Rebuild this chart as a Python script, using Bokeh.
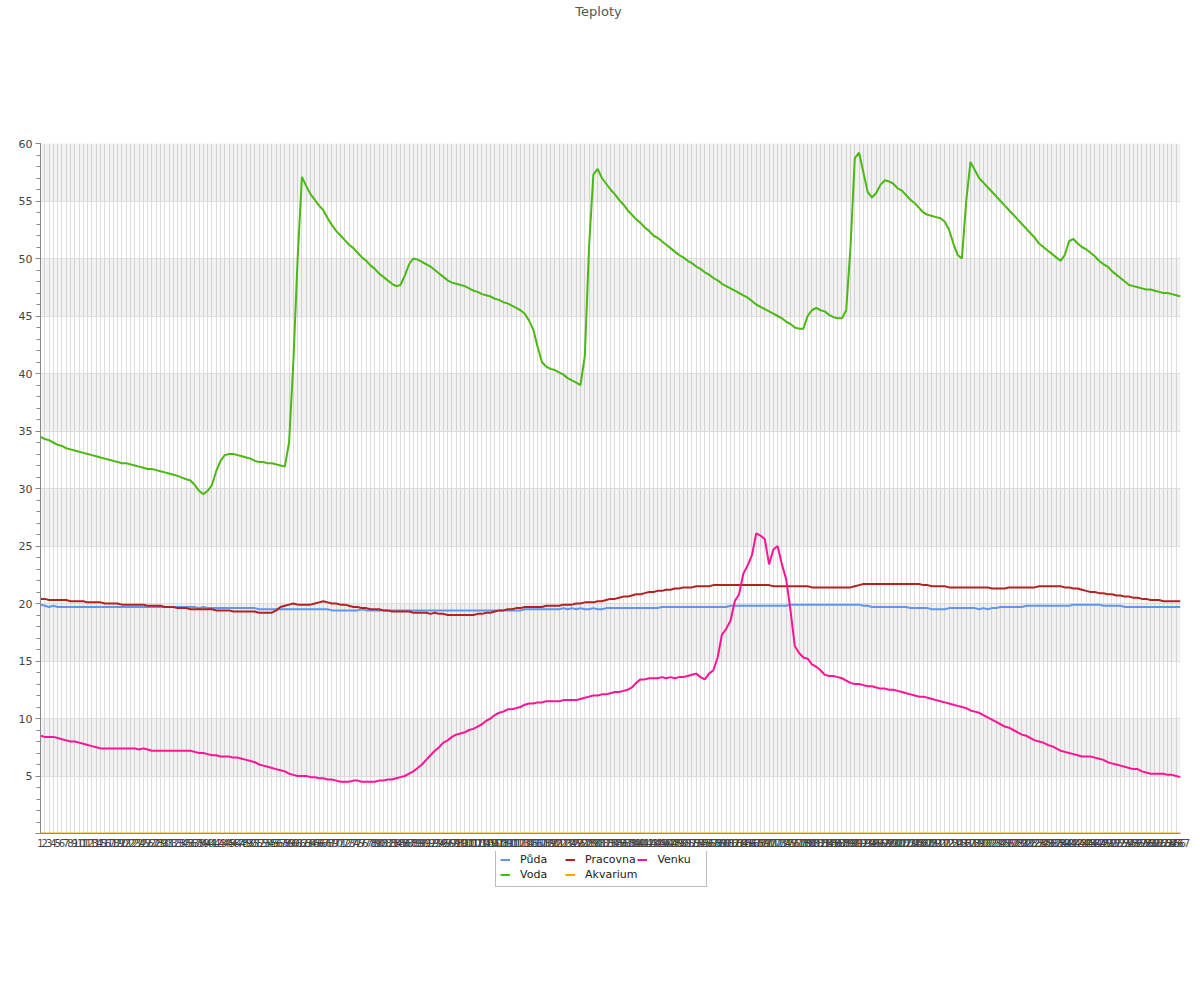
from bokeh.plotting import figure
from bokeh.layouts import column
from bokeh.models import Range1d, FixedTicker, Legend, LegendItem, ColumnDataSource, Label
from bokeh.embed import file_html
from bokeh.resources import INLINE

days = list(range(1, 268))
day_labels = [str(d) for d in days]

chart_title = "Teploty"
series_names = ["Půda", "Voda", "Pracovna", "Akvarium", "Venku"]
series_cols = ["puda", "voda", "pracovna", "akvarium", "venku"]
series_colors = ["#6495ed", "#4cb814", "#b22222", "#ffa500", "#ff1493"]

puda = [
    19.9, 19.8, 19.7, 19.8, 19.7, 19.7, 19.7, 19.7, 19.7, 19.7,
    19.7, 19.7, 19.7, 19.7, 19.7, 19.7, 19.7, 19.7, 19.7, 19.7,
    19.7, 19.7, 19.7, 19.7, 19.7, 19.7, 19.7, 19.7, 19.7, 19.7,
    19.7, 19.7, 19.7, 19.7, 19.7, 19.7, 19.7, 19.6, 19.7, 19.6,
    19.6, 19.6, 19.6, 19.6, 19.6, 19.6, 19.6, 19.6, 19.6, 19.6,
    19.6, 19.5, 19.5, 19.5, 19.5, 19.5, 19.5, 19.5, 19.5, 19.5,
    19.5, 19.5, 19.5, 19.5, 19.5, 19.5, 19.5, 19.5, 19.4, 19.4,
    19.4, 19.4, 19.4, 19.4, 19.4, 19.5, 19.4, 19.4, 19.4, 19.4,
    19.4, 19.4, 19.4, 19.4, 19.4, 19.4, 19.4, 19.4, 19.4, 19.4,
    19.4, 19.4, 19.4, 19.4, 19.4, 19.4, 19.4, 19.4, 19.4, 19.4,
    19.4, 19.4, 19.4, 19.4, 19.4, 19.4, 19.4, 19.4, 19.4, 19.4,
    19.4, 19.4, 19.4, 19.5, 19.5, 19.5, 19.5, 19.5, 19.5, 19.5,
    19.5, 19.5, 19.6, 19.5, 19.6, 19.5, 19.6, 19.5, 19.5, 19.6,
    19.5, 19.5, 19.6, 19.6, 19.6, 19.6, 19.6, 19.6, 19.6, 19.6,
    19.6, 19.6, 19.6, 19.6, 19.6, 19.7, 19.7, 19.7, 19.7, 19.7,
    19.7, 19.7, 19.7, 19.7, 19.7, 19.7, 19.7, 19.7, 19.7, 19.7,
    19.7, 19.8, 19.8, 19.8, 19.8, 19.8, 19.8, 19.8, 19.8, 19.8,
    19.8, 19.8, 19.8, 19.8, 19.8, 19.9, 19.9, 19.9, 19.9, 19.9,
    19.9, 19.9, 19.9, 19.9, 19.9, 19.9, 19.9, 19.9, 19.9, 19.9,
    19.9, 19.9, 19.8, 19.8, 19.7, 19.7, 19.7, 19.7, 19.7, 19.7,
    19.7, 19.7, 19.7, 19.6, 19.6, 19.6, 19.6, 19.6, 19.5, 19.5,
    19.5, 19.5, 19.6, 19.6, 19.6, 19.6, 19.6, 19.6, 19.6, 19.5,
    19.6, 19.5, 19.6, 19.6, 19.7, 19.7, 19.7, 19.7, 19.7, 19.7,
    19.8, 19.8, 19.8, 19.8, 19.8, 19.8, 19.8, 19.8, 19.8, 19.8,
    19.8, 19.9, 19.9, 19.9, 19.9, 19.9, 19.9, 19.9, 19.8, 19.8,
    19.8, 19.8, 19.8, 19.7, 19.7, 19.7, 19.7, 19.7, 19.7, 19.7,
    19.7, 19.7, 19.7, 19.7, 19.7, 19.7, 19.7,
]

voda = [
    34.5, 34.3, 34.2, 34.0, 33.8, 33.7, 33.5, 33.4, 33.3, 33.2,
    33.1, 33.0, 32.9, 32.8, 32.7, 32.6, 32.5, 32.4, 32.3, 32.2,
    32.2, 32.1, 32.0, 31.9, 31.8, 31.7, 31.7, 31.6, 31.5, 31.4,
    31.3, 31.2, 31.1, 30.95, 30.8, 30.7, 30.3, 29.8, 29.5, 29.8,
    30.3, 31.5, 32.4, 32.9, 33.0, 33.0, 32.9, 32.8, 32.7, 32.6,
    32.4, 32.3, 32.3, 32.2, 32.2, 32.1, 32.0, 31.9, 34.0, 41.0,
    50.0, 57.1, 56.3, 55.6, 55.1, 54.6, 54.2, 53.5, 52.9, 52.4,
    52.0, 51.6, 51.2, 50.9, 50.5, 50.1, 49.8, 49.4, 49.1, 48.7,
    48.4, 48.1, 47.8, 47.6, 47.7, 48.5, 49.5, 50.0, 49.9, 49.7,
    49.5, 49.3, 49.0, 48.7, 48.4, 48.1, 47.9, 47.8, 47.7, 47.6,
    47.4, 47.2, 47.1, 46.9, 46.8, 46.7, 46.5, 46.4, 46.2, 46.1,
    45.9, 45.7, 45.5, 45.2, 44.6, 43.8, 42.3, 41.0, 40.6, 40.4,
    40.3, 40.1, 39.9, 39.6, 39.4, 39.2, 39.0, 41.5, 51.0, 57.3,
    57.8, 57.0, 56.5, 56.0, 55.6, 55.1, 54.7, 54.2, 53.8, 53.4,
    53.1, 52.7, 52.4, 52.0, 51.8, 51.5, 51.2, 50.9, 50.6, 50.3,
    50.1, 49.8, 49.6, 49.3, 49.1, 48.8, 48.6, 48.3, 48.1, 47.8,
    47.6, 47.4, 47.2, 47.0, 46.8, 46.6, 46.3, 46.0, 45.8, 45.6,
    45.4, 45.2, 45.0, 44.8, 44.5, 44.3, 44.0, 43.9, 43.9, 45.0,
    45.5, 45.7, 45.5, 45.4, 45.1, 44.9, 44.8, 44.8, 45.5, 51.0,
    58.7, 59.2, 57.5, 55.8, 55.3, 55.7, 56.4, 56.8, 56.7, 56.5,
    56.1, 55.9, 55.5, 55.1, 54.8, 54.4, 54.0, 53.8, 53.7, 53.6,
    53.5, 53.2, 52.5, 51.3, 50.3, 50.0, 55.0, 58.4, 57.7, 57.0,
    56.6, 56.2, 55.8, 55.4, 55.0, 54.6, 54.2, 53.8, 53.4, 53.0,
    52.6, 52.2, 51.8, 51.3, 51.0, 50.7, 50.4, 50.1, 49.8, 50.3,
    51.5, 51.7, 51.3, 51.0, 50.8, 50.5, 50.2, 49.8, 49.5, 49.3,
    48.9, 48.6, 48.3, 48.0, 47.7, 47.6, 47.5, 47.4, 47.3, 47.3,
    47.2, 47.1, 47.0, 47.0, 46.9, 46.8, 46.7,
]

pracovna = [
    20.4, 20.4, 20.3, 20.3, 20.3, 20.3, 20.3, 20.2, 20.2, 20.2,
    20.2, 20.1, 20.1, 20.1, 20.1, 20.0, 20.0, 20.0, 20.0, 19.9,
    19.9, 19.9, 19.9, 19.9, 19.9, 19.8, 19.8, 19.8, 19.8, 19.7,
    19.7, 19.7, 19.6, 19.6, 19.6, 19.5, 19.5, 19.5, 19.5, 19.5,
    19.5, 19.4, 19.4, 19.4, 19.4, 19.3, 19.3, 19.3, 19.3, 19.3,
    19.3, 19.2, 19.2, 19.2, 19.2, 19.4, 19.7, 19.8, 19.9, 20.0,
    19.9, 19.9, 19.9, 19.9, 20.0, 20.1, 20.2, 20.1, 20.0, 20.0,
    19.9, 19.9, 19.8, 19.7, 19.7, 19.6, 19.6, 19.5, 19.5, 19.5,
    19.4, 19.4, 19.3, 19.3, 19.3, 19.3, 19.3, 19.2, 19.2, 19.2,
    19.2, 19.1, 19.2, 19.1, 19.1, 19.0, 19.0, 19.0, 19.0, 19.0,
    19.0, 19.0, 19.1, 19.1, 19.2, 19.2, 19.3, 19.4, 19.4, 19.5,
    19.5, 19.6, 19.6, 19.7, 19.7, 19.7, 19.7, 19.7, 19.8, 19.8,
    19.8, 19.8, 19.9, 19.9, 19.9, 20.0, 20.0, 20.1, 20.1, 20.1,
    20.2, 20.2, 20.3, 20.4, 20.4, 20.5, 20.6, 20.6, 20.7, 20.8,
    20.8, 20.9, 21.0, 21.0, 21.1, 21.1, 21.2, 21.2, 21.3, 21.3,
    21.4, 21.4, 21.4, 21.5, 21.5, 21.5, 21.5, 21.6, 21.6, 21.6,
    21.6, 21.6, 21.6, 21.6, 21.6, 21.6, 21.6, 21.6, 21.6, 21.6,
    21.6, 21.5, 21.5, 21.5, 21.5, 21.5, 21.5, 21.5, 21.5, 21.5,
    21.4, 21.4, 21.4, 21.4, 21.4, 21.4, 21.4, 21.4, 21.4, 21.4,
    21.5, 21.6, 21.7, 21.7, 21.7, 21.7, 21.7, 21.7, 21.7, 21.7,
    21.7, 21.7, 21.7, 21.7, 21.7, 21.7, 21.6, 21.6, 21.5, 21.5,
    21.5, 21.5, 21.4, 21.4, 21.4, 21.4, 21.4, 21.4, 21.4, 21.4,
    21.4, 21.4, 21.3, 21.3, 21.3, 21.3, 21.4, 21.4, 21.4, 21.4,
    21.4, 21.4, 21.4, 21.5, 21.5, 21.5, 21.5, 21.5, 21.5, 21.4,
    21.4, 21.3, 21.3, 21.2, 21.1, 21.0, 21.0, 20.9, 20.9, 20.8,
    20.8, 20.7, 20.7, 20.6, 20.6, 20.5, 20.5, 20.4, 20.4, 20.3,
    20.3, 20.3, 20.2, 20.2, 20.2, 20.2, 20.2,
]

akvarium = [
    0, 0, 0, 0, 0, 0, 0, 0, 0, 0, 0, 0, 0, 0, 0, 0, 0, 0, 0, 0,
    0, 0, 0, 0, 0, 0, 0, 0, 0, 0, 0, 0, 0, 0, 0, 0, 0, 0, 0, 0,
    0, 0, 0, 0, 0, 0, 0, 0, 0, 0, 0, 0, 0, 0, 0, 0, 0, 0, 0, 0,
    0, 0, 0, 0, 0, 0, 0, 0, 0, 0, 0, 0, 0, 0, 0, 0, 0, 0, 0, 0,
    0, 0, 0, 0, 0, 0, 0, 0, 0, 0, 0, 0, 0, 0, 0, 0, 0, 0, 0, 0,
    0, 0, 0, 0, 0, 0, 0, 0, 0, 0, 0, 0, 0, 0, 0, 0, 0, 0, 0, 0,
    0, 0, 0, 0, 0, 0, 0, 0, 0, 0, 0, 0, 0, 0, 0, 0, 0, 0, 0, 0,
    0, 0, 0, 0, 0, 0, 0, 0, 0, 0, 0, 0, 0, 0, 0, 0, 0, 0, 0, 0,
    0, 0, 0, 0, 0, 0, 0, 0, 0, 0, 0, 0, 0, 0, 0, 0, 0, 0, 0, 0,
    0, 0, 0, 0, 0, 0, 0, 0, 0, 0, 0, 0, 0, 0, 0, 0, 0, 0, 0, 0,
    0, 0, 0, 0, 0, 0, 0, 0, 0, 0, 0, 0, 0, 0, 0, 0, 0, 0, 0, 0,
    0, 0, 0, 0, 0, 0, 0, 0, 0, 0, 0, 0, 0, 0, 0, 0, 0, 0, 0, 0,
    0, 0, 0, 0, 0, 0, 0, 0, 0, 0, 0, 0, 0, 0, 0, 0, 0, 0, 0, 0,
    0, 0, 0, 0, 0, 0, 0,
]

venku = [
    8.5, 8.4, 8.4, 8.4, 8.3, 8.2, 8.1, 8.0, 8.0, 7.9,
    7.8, 7.7, 7.6, 7.5, 7.4, 7.4, 7.4, 7.4, 7.4, 7.4,
    7.4, 7.4, 7.4, 7.3, 7.4, 7.3, 7.2, 7.2, 7.2, 7.2,
    7.2, 7.2, 7.2, 7.2, 7.2, 7.2, 7.1, 7.0, 7.0, 6.9,
    6.8, 6.8, 6.7, 6.7, 6.7, 6.6, 6.6, 6.5, 6.4, 6.3,
    6.2, 6.0, 5.9, 5.8, 5.7, 5.6, 5.5, 5.4, 5.2, 5.1,
    5.0, 5.0, 5.0, 4.9, 4.9, 4.8, 4.8, 4.7, 4.7, 4.6,
    4.5, 4.5, 4.5, 4.6, 4.6, 4.5, 4.5, 4.5, 4.5, 4.6,
    4.6, 4.7, 4.7, 4.8, 4.9, 5.0, 5.2, 5.4, 5.7, 6.0,
    6.4, 6.8, 7.2, 7.5, 7.9, 8.1, 8.4, 8.6, 8.7, 8.8,
    9.0, 9.1, 9.3, 9.5, 9.8, 10.0, 10.3, 10.5, 10.6, 10.8,
    10.8, 10.9, 11.0, 11.2, 11.3, 11.3, 11.4, 11.4, 11.5, 11.5,
    11.5, 11.5, 11.6, 11.6, 11.6, 11.6, 11.7, 11.8, 11.9, 12.0,
    12.0, 12.1, 12.1, 12.2, 12.3, 12.3, 12.4, 12.5, 12.7, 13.1,
    13.4, 13.4, 13.5, 13.5, 13.5, 13.6, 13.5, 13.6, 13.5, 13.6,
    13.6, 13.7, 13.8, 13.9, 13.6, 13.4, 13.9, 14.2, 15.3, 17.3,
    17.8, 18.5, 20.2, 20.8, 22.6, 23.3, 24.2, 26.1, 25.9, 25.6,
    23.4, 24.7, 25.0, 23.4, 22.1, 19.4, 16.3, 15.7, 15.3, 15.2,
    14.7, 14.5, 14.2, 13.8, 13.7, 13.7, 13.6, 13.5, 13.3, 13.1,
    13.0, 13.0, 12.9, 12.8, 12.8, 12.7, 12.6, 12.6, 12.5, 12.5,
    12.4, 12.3, 12.2, 12.1, 12.0, 11.9, 11.9, 11.8, 11.7, 11.6,
    11.5, 11.4, 11.3, 11.2, 11.1, 11.0, 10.9, 10.7, 10.6, 10.5,
    10.3, 10.1, 9.9, 9.7, 9.5, 9.3, 9.2, 9.0, 8.8, 8.6,
    8.5, 8.3, 8.1, 8.0, 7.9, 7.7, 7.6, 7.4, 7.2, 7.1,
    7.0, 6.9, 6.8, 6.7, 6.7, 6.7, 6.6, 6.5, 6.4, 6.2,
    6.1, 6.0, 5.9, 5.8, 5.7, 5.6, 5.6, 5.4, 5.3, 5.2,
    5.2, 5.2, 5.2, 5.1, 5.1, 5.0, 4.9,
]

y_ticks = [0, 5, 10, 15, 20, 25, 30, 35, 40, 45, 50, 55, 60]
y_minor = list(range(0, 61))

FONT = "DejaVu Sans"
TITLE_H = 30
LEG_H = 50
FRAME_LEFT = 40       # the strips' frames are aligned with the chart's frame
BOTTOM = 18

src = ColumnDataSource(dict(day=days, puda=puda, voda=voda, pracovna=pracovna,
                            akvarium=akvarium, venku=venku))

# ---------------- title strip ----------------
tfig = figure(width=1192, height=TITLE_H, output_backend="svg", toolbar_location=None,
              x_range=Range1d(0, 1), y_range=Range1d(0, 1),
              x_axis_location=None, y_axis_location=None,
              min_border_left=0, min_border_right=0, min_border_top=0, min_border_bottom=0)
tfig.grid.visible = False
tfig.outline_line_color = None
tfig.add_layout(Label(x=598 - FRAME_LEFT, y=TITLE_H - 11, x_units="screen", y_units="screen",
                      text=chart_title, text_align="center", text_baseline="middle",
                      text_font=FONT, text_font_size="13px", text_color="#555555"))

# ---------------- main chart ----------------
p = figure(width=1192, height=143 - TITLE_H + 690 + BOTTOM, output_backend="svg",
           toolbar_location=None, x_range=Range1d(1, 267), y_range=Range1d(0, 60),
           min_border_left=FRAME_LEFT, min_border_right=12, min_border_top=143 - TITLE_H,
           min_border_bottom=BOTTOM)
p.outline_line_color = None
p.background_fill_color = "white"

p.xaxis.ticker = FixedTicker(ticks=days, minor_ticks=[])
p.xaxis.major_label_overrides = dict(zip(days, day_labels))
p.xaxis.major_tick_line_color = None
p.xaxis.minor_tick_line_color = None
p.xaxis.major_tick_out = 0
p.xaxis.major_tick_in = 0
p.xaxis.axis_line_color = "#888888"
p.xaxis.major_label_standoff = 5
p.xaxis.major_label_text_font = FONT
p.xaxis.major_label_text_font_size = "10px"
p.xaxis.major_label_text_color = "#444444"

p.yaxis.ticker = FixedTicker(ticks=y_ticks, minor_ticks=y_minor)
p.yaxis.major_label_overrides = {0: ""}
p.yaxis.axis_line_color = "#888888"
p.yaxis.major_tick_line_color = "#888888"
p.yaxis.minor_tick_line_color = "#888888"
p.yaxis.major_tick_out = 5
p.yaxis.major_tick_in = 0
p.yaxis.minor_tick_out = 4
p.yaxis.minor_tick_in = 0
p.yaxis.major_label_standoff = 3
p.yaxis.major_label_text_font = FONT
p.yaxis.major_label_text_font_size = "11px"
p.yaxis.major_label_text_color = "#444444"

p.xgrid.ticker = FixedTicker(ticks=days, minor_ticks=[])
p.xgrid.grid_line_color = "#dedede"
p.ygrid.ticker = FixedTicker(ticks=y_ticks, minor_ticks=[])
p.ygrid.grid_line_color = "#dddddd"
p.ygrid.band_fill_color = "black"
p.ygrid.band_fill_alpha = 0.05

for col, color in zip(series_cols, series_colors):
    p.line(x="day", y=col, source=src, line_color=color, line_width=2)

# ---------------- legend strip ----------------
# same series drawn again with a y range that keeps the lines out of view,
# so that this strip only shows the legend keys.
lfig = figure(width=1192, height=LEG_H, output_backend="svg", toolbar_location=None,
              x_range=Range1d(1, 267), y_range=Range1d(1000, 1001),
              x_axis_location=None, y_axis_location=None,
              min_border_left=0, min_border_right=0, min_border_top=0, min_border_bottom=0)
lfig.grid.visible = False
lfig.outline_line_color = None
keys = []
for col, color in zip(series_cols, series_colors):
    keys.append(lfig.line(x="day", y=col, source=src, line_color=color, line_width=2))

legend = Legend(items=[LegendItem(label=n, renderers=[r]) for n, r in zip(series_names, keys)],
                orientation="vertical", nrows=2,
                location=(495 - FRAME_LEFT, LEG_H - 38 + (BOTTOM - 16)))
legend.label_text_font = FONT
legend.label_text_font_size = "11px"
legend.label_text_color = "#222222"
legend.glyph_width = 10
legend.glyph_height = 15
legend.label_height = 15
legend.label_width = 45
legend.label_standoff = 10
legend.padding = 4
legend.spacing = 0
legend.margin = 0
legend.border_line_color = "#777777"
legend.border_line_width = 1
legend.background_fill_color = "white"
legend.background_fill_alpha = 1
lfig.add_layout(legend, "center")

layout = column(tfig, p, lfig, spacing=0)

with open("out.html", "w", encoding="utf-8") as f:
    f.write(file_html(layout, INLINE, title=chart_title))
